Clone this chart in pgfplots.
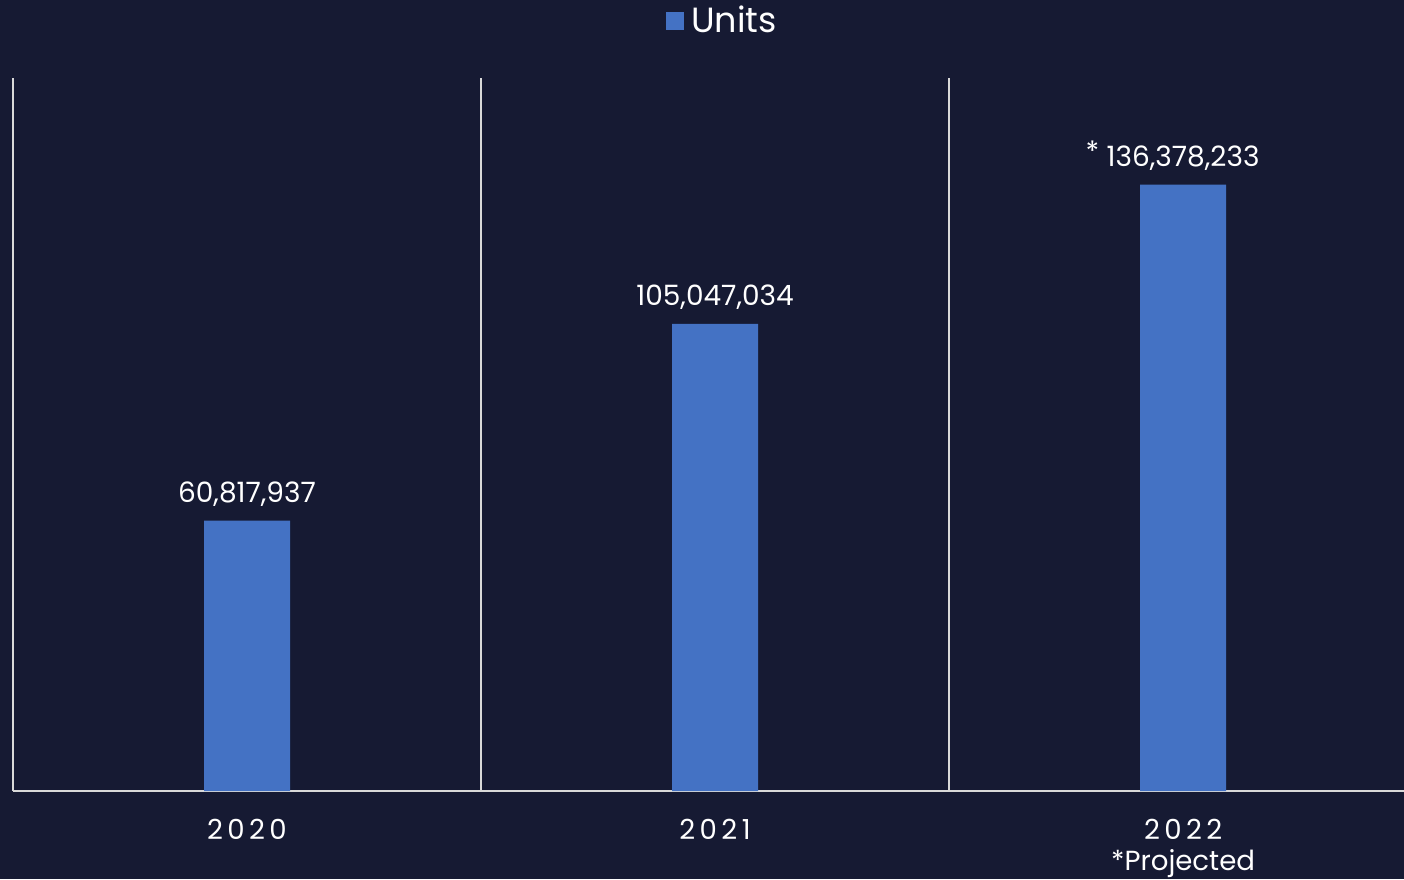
\documentclass[border=0pt]{standalone}
\usepackage{pgfplots}
\pgfplotsset{compat=1.18}
\usepackage{fontspec}
\setmainfont{Poppins}
\newfontfamily\spaced[LetterSpace=16]{Poppins}
\definecolor{bg}{HTML}{161A33}
\definecolor{barblue}{HTML}{4472C4}
\definecolor{linegray}{HTML}{D9D9D9}
\begin{document}
\begin{tikzpicture}
\fill[bg] (-6.5pt,-44pt) rectangle (695.5pt,395.5pt);
\begin{axis}[
  scale only axis,
  width=695.5pt, height=356.5pt,
  xmin=-0.5, xmax=2.472,
  ymin=0, ymax=160.35e6,
  ybar, bar width=43pt,
  axis x line*=bottom,
  axis y line=none,
  x axis line style={draw=linegray, line width=1pt, -},
  xtick={0,1,2},
  xticklabels={{\spaced 2020},{\spaced 2021},{{\spaced 2022}\\[0.8pt]*Projected}},
  xticklabel style={text=white, font=\fontsize{13.8pt}{15pt}\selectfont, align=center, anchor=north, yshift=-10.5pt},
  major tick length=0pt, minor tick length=0pt,
  minor xtick={-0.5,0.5,1.5},
  xminorgrids,
  minor grid style={draw=linegray, line width=0.8pt},
  point meta=explicit symbolic,
  nodes near coords,
  nodes near coords style={text=white, font=\fontsize{14pt}{16pt}\selectfont, anchor=south, inner sep=0pt, yshift=7pt},
  legend style={at={(0.5108,1.080)}, anchor=center, draw=none, fill=none, text=white, font=\fontsize{17.5pt}{19pt}\selectfont, inner sep=0pt},
  legend image code/.code={\fill[barblue] (0pt,-4.5pt) rectangle (9pt,4.5pt); \path (10.5pt,0pt);},
  legend cell align=left,
]
\addplot[fill=barblue, draw=none] coordinates {
  (0,60817937) [60,817,937]
  (1,105047034) [105,047,034]
  (2,136378233) [\llap{\raisebox{2.5pt}{*}\ }136,378,233]
};
\addlegendentry{Units}
\end{axis}
\pgfresetboundingbox
\useasboundingbox (-6.5pt,-44pt) rectangle (695.5pt,395.5pt);
\end{tikzpicture}
\end{document}
